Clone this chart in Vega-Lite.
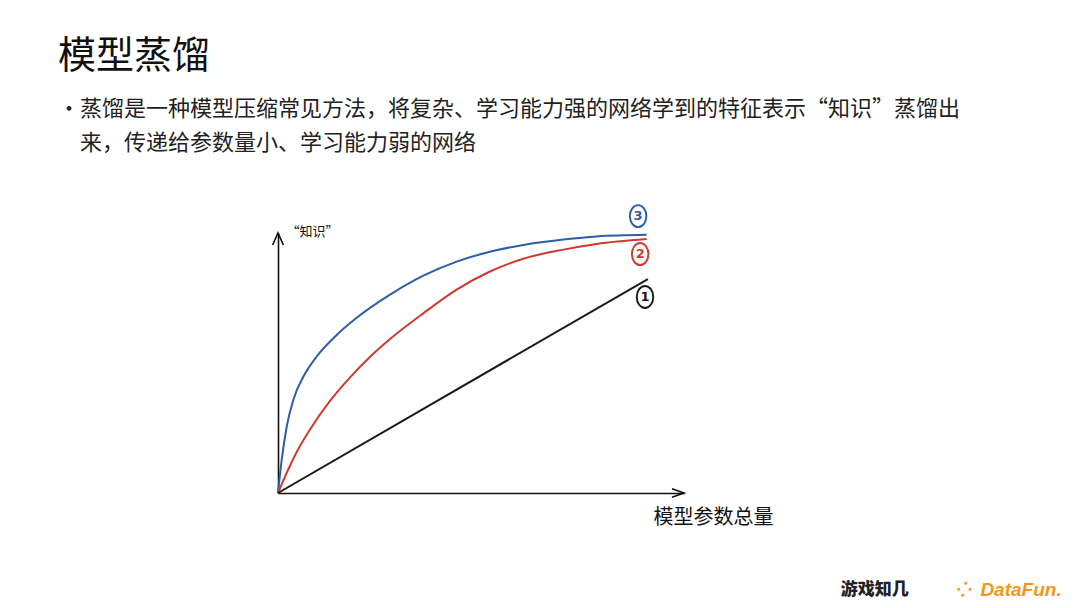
{
  "$schema": "https://vega.github.io/schema/vega-lite/v6.json",
  "width": 406,
  "height": 260,
  "autosize": {"type": "none"},
  "padding": {"left": 278, "top": 233, "right": 396, "bottom": 115},
  "background": "white",
  "config": {"view": {"stroke": null}, "font": "Noto Sans CJK SC"},
  "title": {
    "text": "模型蒸馏",
    "subtitle": ["•蒸馏是一种模型压缩常见方法，将复杂、学习能力强的网络学到的特征表示“知识”蒸馏出", "\u200b\u3000来，传递给参数量小、学习能力弱的网络"],
    "anchor": "start",
    "frame": "group",
    "dx": -220,
    "offset": 47,
    "font": "Noto Sans CJK SC",
    "fontSize": 38,
    "fontWeight": "normal",
    "color": "#111111",
    "subtitleFont": "Noto Sans CJK SC",
    "subtitleFontSize": 22,
    "subtitleColor": "#222222",
    "subtitleLineHeight": 34,
    "subtitlePadding": 23
  },
  "datasets": {
    "curves": [
      {"series": "3", "x": 0, "y": 0},
      {"series": "3", "x": 0.91, "y": 12.7},
      {"series": "3", "x": 2.14, "y": 25.5},
      {"series": "3", "x": 3.77, "y": 35.8},
      {"series": "3", "x": 6.23, "y": 44.7},
      {"series": "3", "x": 9.53, "y": 52.5},
      {"series": "3", "x": 14.46, "y": 60.8},
      {"series": "3", "x": 19.38, "y": 67.4},
      {"series": "3", "x": 27.6, "y": 76.3},
      {"series": "3", "x": 35.8, "y": 83.6},
      {"series": "3", "x": 44.0, "y": 89.0},
      {"series": "3", "x": 52.2, "y": 92.8},
      {"series": "3", "x": 60.4, "y": 95.4},
      {"series": "3", "x": 70.3, "y": 97.5},
      {"series": "3", "x": 78.5, "y": 98.7},
      {"series": "3", "x": 90.8, "y": 99.3},
      {"series": "2", "x": 0, "y": 0},
      {"series": "2", "x": 1.72, "y": 6.3},
      {"series": "2", "x": 4.61, "y": 15.8},
      {"series": "2", "x": 7.88, "y": 24.4},
      {"series": "2", "x": 12.8, "y": 35.4},
      {"series": "2", "x": 17.7, "y": 44.4},
      {"series": "2", "x": 22.7, "y": 52.4},
      {"series": "2", "x": 27.6, "y": 59.2},
      {"series": "2", "x": 35.8, "y": 69.1},
      {"series": "2", "x": 44.0, "y": 78.2},
      {"series": "2", "x": 52.2, "y": 85.2},
      {"series": "2", "x": 60.4, "y": 90.1},
      {"series": "2", "x": 70.3, "y": 93.6},
      {"series": "2", "x": 78.5, "y": 95.8},
      {"series": "2", "x": 90.8, "y": 97.7},
      {"series": "1", "x": 0, "y": 0},
      {"series": "1", "x": 91.1, "y": 82.3}
    ],
    "labels": [
      {"series": "3", "x": 88.7, "y": 106.5},
      {"series": "2", "x": 89.2, "y": 91.9},
      {"series": "1", "x": 90.4, "y": 75.4}
    ],
    "arrows": [
      {"dir": "up", "x": 0, "y": 100},
      {"dir": "right", "x": 100, "y": 0}
    ],
    "logos": [
      {"name": "游戏知几", "x": 147.0, "y": -37.3},
      {"name": "⁘", "x": 166.8, "y": -37.3},
      {"name": "DataFun.", "x": 173.0, "y": -37.3}
    ]
  },
  "encoding": {
    "x": {
      "field": "x",
      "type": "quantitative",
      "scale": {"domain": [0, 100], "nice": false, "zero": false},
      "axis": {
        "domain": true, "domainColor": "#111111", "domainWidth": 1.6,
        "ticks": false, "labels": false, "grid": false,
        "title": "模型参数总量", "titleX": 435, "titleY": 24,
        "titleAlign": "center", "titleBaseline": "middle",
        "titleFontSize": 20, "titleFontWeight": "normal", "titleColor": "#111111",
        "titleFont": "Noto Sans CJK SC"
      }
    },
    "y": {
      "field": "y",
      "type": "quantitative",
      "scale": {"domain": [0, 100], "nice": false, "zero": false},
      "axis": {
        "domain": true, "domainColor": "#111111", "domainWidth": 1.6,
        "ticks": false, "labels": false, "grid": false,
        "title": "“知识”", "titleAngle": 0, "titleX": 8, "titleY": -2,
        "titleAlign": "left", "titleBaseline": "middle",
        "titleFontSize": 13, "titleFontWeight": "normal", "titleColor": "#111111",
        "titleFont": "Noto Sans CJK SC"
      }
    }
  },
  "layer": [
    {
      "data": {"name": "curves"},
      "mark": {"type": "line", "interpolate": "monotone", "strokeWidth": 2},
      "encoding": {
        "color": {"field": "series", "type": "nominal", "scale": {"domain": ["1", "2", "3"], "range": ["#1a1a1a", "#d0392f", "#2d5ea6"]}, "legend": null},
        "detail": {"field": "series"}
      }
    },
    {
      "data": {"name": "arrows"},
      "mark": {"type": "point", "filled": false, "stroke": "#111111", "strokeWidth": 1.6, "size": 576, "opacity": 1},
      "encoding": {
        "shape": {"field": "dir", "type": "nominal", "scale": {"domain": ["up", "right"], "range": ["M -0.45 1 L 0 0 L 0.45 1", "M -1 -0.35 L 0 0 L -1 0.35"]}, "legend": null}
      }
    },
    {
      "data": {"name": "labels"},
      "mark": {"type": "point", "filled": false, "strokeWidth": 1.9, "size": 484, "opacity": 1, "shape": "M 0 -1 A 0.75 1 0 1 1 0 1 A 0.75 1 0 1 1 0 -1 Z"},
      "encoding": {
        "stroke": {"field": "series", "type": "nominal", "scale": {"domain": ["1", "2", "3"], "range": ["#1a1a1a", "#d0392f", "#2d5ea6"]}, "legend": null}
      }
    },
    {
      "data": {"name": "labels"},
      "mark": {"type": "text", "fontSize": 13, "fontWeight": "bold", "font": "DejaVu Sans", "baseline": "middle", "align": "center"},
      "encoding": {
        "text": {"field": "series"},
        "color": {"field": "series", "type": "nominal", "scale": {"domain": ["1", "2", "3"], "range": ["#1a1a1a", "#d0392f", "#2d5ea6"]}, "legend": null}
      }
    },
    {
      "data": {"name": "logos"},
      "transform": [{"filter": "datum.name == '游戏知几'"}],
      "mark": {"type": "text", "fontSize": 17, "fontWeight": 900, "font": "Noto Sans CJK SC", "color": "#222222", "baseline": "middle", "align": "center"},
      "encoding": {"text": {"field": "name"}}
    },
    {
      "data": {"name": "logos"},
      "transform": [{"filter": "datum.name != '游戏知几'"}],
      "mark": {"type": "text", "fontSize": 19, "fontWeight": "bold", "fontStyle": "italic", "font": "Liberation Sans", "color": "#f5961c", "baseline": "middle", "align": "left"},
      "encoding": {"text": {"field": "name"}}
    }
  ]
}
